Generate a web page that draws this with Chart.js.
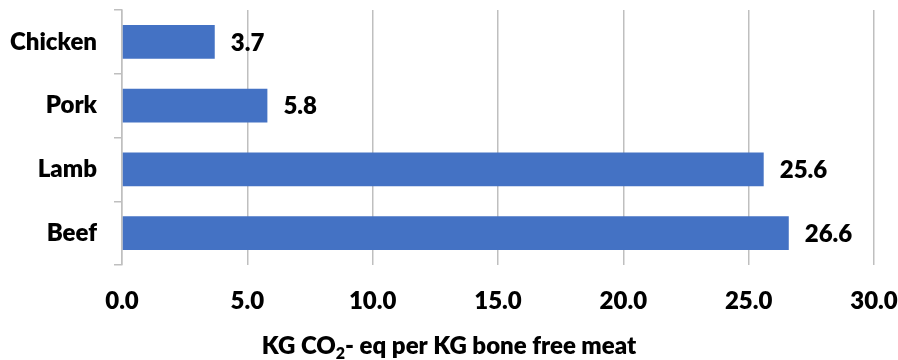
<!DOCTYPE html>
<html>
<head>
<meta charset="utf-8">
<script src="https://cdn.jsdelivr.net/npm/chart.js@4/dist/chart.umd.min.js"></script>
<style>
  html, body { margin: 0; padding: 0; background: #ffffff; }
  #wrap { width: 898px; height: 360px; position: relative; }
</style>
</head>
<body>
<div id="wrap"><canvas id="c" width="898" height="360"></canvas></div>
<script>
// Emissions per kilogram of meat
const categories = ['Chicken', 'Pork', 'Lamb', 'Beef'];
const emissions = [3.7, 5.8, 25.6, 26.6];
const axisMin = 0;
const axisMax = 30;
const axisStep = 5;

const FONT = 'Lato';
const FONT_SIZE = 24;
const FONT_WEIGHT = 800;
const BAR_COLOR = '#4472C4';
const GRID_COLOR = '#BFBFBF';

// Numeric value written just past the end of each bar
const valueLabels = {
  id: 'valueLabels',
  afterDatasetsDraw(chart) {
    const ctx = chart.ctx;
    const meta = chart.getDatasetMeta(0);
    ctx.save();
    ctx.font = FONT_WEIGHT + ' ' + FONT_SIZE + 'px ' + FONT;
    ctx.fillStyle = '#000000';
    ctx.textAlign = 'left';
    ctx.textBaseline = 'middle';
    meta.data.forEach((bar, i) => {
      const v = chart.data.datasets[0].data[i];
      ctx.fillText(v.toFixed(1), bar.x + 16, bar.y + 1);
    });
    ctx.restore();
  }
};

// Axis caption with a subscript "2" in CO2
const axisCaption = {
  id: 'axisCaption',
  afterDraw(chart) {
    const ctx = chart.ctx;
    const parts = [
      { t: 'KG CO', f: FONT_WEIGHT + ' ' + FONT_SIZE + 'px ' + FONT, dy: 0 },
      { t: '2', f: FONT_WEIGHT + ' 16px ' + FONT, dy: 5 },
      { t: '- eq per KG bone free meat', f: FONT_WEIGHT + ' ' + FONT_SIZE + 'px ' + FONT, dy: 0 }
    ];
    ctx.save();
    ctx.fillStyle = '#000000';
    ctx.textBaseline = 'alphabetic';
    ctx.textAlign = 'left';
    let total = 0;
    parts.forEach(p => { ctx.font = p.f; p.w = ctx.measureText(p.t).width; total += p.w; });
    let x = chart.width / 2 - total / 2;
    const y = 354;
    parts.forEach(p => { ctx.font = p.f; ctx.fillText(p.t, x, y + p.dy); x += p.w; });
    ctx.restore();
  }
};

function draw() {
  Chart.defaults.font.family = FONT;
  new Chart(document.getElementById('c'), {
    type: 'bar',
    data: {
      labels: categories,
      datasets: [{
        data: emissions,
        backgroundColor: BAR_COLOR,
        borderWidth: 0,
        barPercentage: 0.53,
        categoryPercentage: 1.0
      }]
    },
    options: {
      indexAxis: 'y',
      responsive: false,
      animation: false,
      devicePixelRatio: 1,
      layout: { padding: { top: 10, right: 24, left: 0, bottom: 0 } },
      plugins: {
        legend: { display: false },
        tooltip: { enabled: false }
      },
      scales: {
        x: {
          min: axisMin,
          max: axisMax,
          afterFit(scale) {
            scale.height = 95;
            scale.paddingLeft = 0;
            scale.paddingRight = 0;
          },
          ticks: {
            stepSize: axisStep,
            padding: 22,
            color: '#000000',
            font: { size: FONT_SIZE, weight: FONT_WEIGHT },
            callback: v => Number(v).toFixed(1)
          },
          grid: {
            color: GRID_COLOR,
            lineWidth: 1.5,
            drawTicks: false
          },
          border: { display: false }
        },
        y: {
          offset: true,
          afterFit(scale) {
            scale.width = 122;
            scale.paddingTop = 0;
            scale.paddingBottom = 0;
          },
          ticks: {
            padding: 17,
            color: '#000000',
            font: { size: FONT_SIZE, weight: FONT_WEIGHT }
          },
          grid: {
            offset: true,
            drawOnChartArea: false,
            drawTicks: true,
            tickLength: 8,
            color: GRID_COLOR,
            lineWidth: 1.5
          },
          border: { display: true, color: GRID_COLOR, width: 1.5 }
        }
      }
    },
    plugins: [valueLabels, axisCaption]
  });
}

if (document.fonts && document.fonts.load) {
  document.fonts.load(FONT_WEIGHT + ' ' + FONT_SIZE + 'px ' + FONT).then(draw, draw);
} else {
  draw();
}
</script>
</body>
</html>
